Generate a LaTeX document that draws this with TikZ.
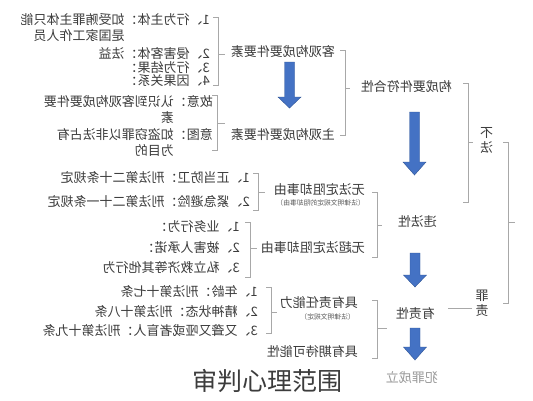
\documentclass[tikz,border=0pt]{standalone}
\usepackage{fontspec}
\newfontfamily\cjk{Noto Sans CJK SC}
\definecolor{txt}{HTML}{3C3C3C}
\definecolor{txtl}{HTML}{9A9A9A}
\definecolor{brc}{HTML}{A8A8A8}
\definecolor{arf}{HTML}{4472C4}
\definecolor{ard}{HTML}{2F5597}
\tikzset{
  t/.style={font=\cjk\fontsize{13}{13}\selectfont, text=txt, inner sep=0pt, anchor=west},
  tv/.style={font=\cjk\fontsize{13}{15}\selectfont, text=txt, inner sep=0pt, align=center},
  tsm/.style={font=\cjk\fontsize{6.8}{6.8}\selectfont, text=txt!85, inner sep=0pt, anchor=west},
  br/.style={draw=brc, line width=0.7pt},
  barrow/.style={fill=arf, draw=ard, line width=0.4pt},
}
% block arrow: centre x, top y, tip y, head length
\newcommand\blkarrow[4]{%
  \path[barrow] (#1-5,#2) -- (#1+5,#2) -- (#1+5,#3-#4) -- (#1+11.5,#3-#4)
     -- (#1,#3) -- (#1-11.5,#3-#4) -- (#1-5,#3-#4) -- cycle;}
% bracket: x, top y, bottom y, mid y, mid tick end x
\newcommand\brk[5]{%
  \draw[br] (#1+5,#2) -- (#1,#2) -- (#1,#3) -- (#1+5,#3);
  \draw[br] (#1,#4) -- (#5,#4);}
\begin{document}
\begin{tikzpicture}[x=1pt,y=-1pt]
\useasboundingbox[fill=white] (0,0) rectangle (533,400);
\begin{scope}[shift={(533,0)}, xscale=-1, transform shape]
  % top level
  \node[tv] (bf) at (46.5,140.5) {不\\法};
  \node[tv] (zz) at (51,303) {罪\\责};
  \brk{25}{142}{303}{222}{18}
  \brk{65}{83}{202}{142}{60}
  \node[t] (gj) at (81,87) {构成要件符合性};
  \node[t] (wf) at (96,222) {违法性};
  \node[t] (yz) at (98,314) {有责性};
  \node[t, text=txtl] (fz) at (95,378) {犯罪成立};
  \coordinate (l1) at (61,308);
  \coordinate (l2) at (85,308);
  \draw[br] (l1) -- (l2);
  \blkarrow{118.5}{112}{175}{13}
  \blkarrow{118}{253}{287}{12}
  \blkarrow{118}{328}{360}{13}
  % constituent elements
  \brk{188}{50}{135}{88}{183}
  \node[t] (kg) at (198,52) {客观构成要件要素};
  \node[t] (zg) at (198,135) {主观构成要件要素};
  \blkarrow{243.5}{62}{108}{11}
  \brk{315}{17}{85}{54}{308}
  \node[t] (b1) at (323,20) {1、行为主体：如受贿罪主体只能};
  \node[t] (b1b) at (323,36) {\hphantom{1、行为主体：}是国家工作人员};
  \node[t] (b2) at (323,54) {2、侵害客体：法益};
  \node[t] (b3) at (323,67.5) {3、行为结果：};
  \node[t] (b4) at (323,81) {4、因果关系：};
  \brk{316}{95}{150}{123}{308}
  \node[t] (c1) at (320,102) {故意：认识到客观构成要件要};
  \node[t] (c1b) at (320,118) {\hphantom{故意：}素};
  \node[t] (c2) at (320,135) {意图：如盗窃罪以非法占有};
  \node[t] (c2b) at (320,150) {\hphantom{意图：}为目的};
  % illegality
  \brk{156}{192}{257}{225}{151}
  \node[t] (wfd) at (168,190) {无法定阻却事由};
  \node[tsm] (wfds) at (168,203) {（法律明文规定的阻却事由）};
  \node[t] (wcf) at (168,248) {无超法定阻却事由};
  \brk{275}{173}{210}{192}{268}
  \node[t] (e1) at (283,178) {1、正当防卫：刑法第二十条规定};
  \node[t] (e2) at (283,202) {2、紧急避险：刑法第二十一条规定};
  \brk{283}{222}{277}{248}{276}
  \node[t] (f1) at (293,227) {1、业务行为：};
  \node[t] (f2) at (293,248) {2、被害人承诺：};
  \node[t] (f3) at (293,268) {3、私立救济等其他行为};
  % culpability
  \brk{156}{300}{358}{328}{146}
  \node[t] (zr) at (175,303) {具有责任能力};
  \node[tsm] (zrs) at (178,317) {（法律明文规定）};
  \node[t] (qd) at (175,352) {具有期待可能性};
  \brk{262}{287}{333}{312}{256}
  \node[t] (h1) at (275,292) {1、年龄：刑法第十七条};
  \node[t] (h2) at (275,312) {2、精神状态：刑法第十八条};
  \node[t] (h3) at (275,330) {3、又聋又哑或者盲人：刑法第十九条};
\end{scope}
\node[font=\cjk\fontsize{25}{25}\selectfont, text=txt, inner sep=0pt] (cap) at (267,381) {审判心理范围};
\end{tikzpicture}
\end{document}
